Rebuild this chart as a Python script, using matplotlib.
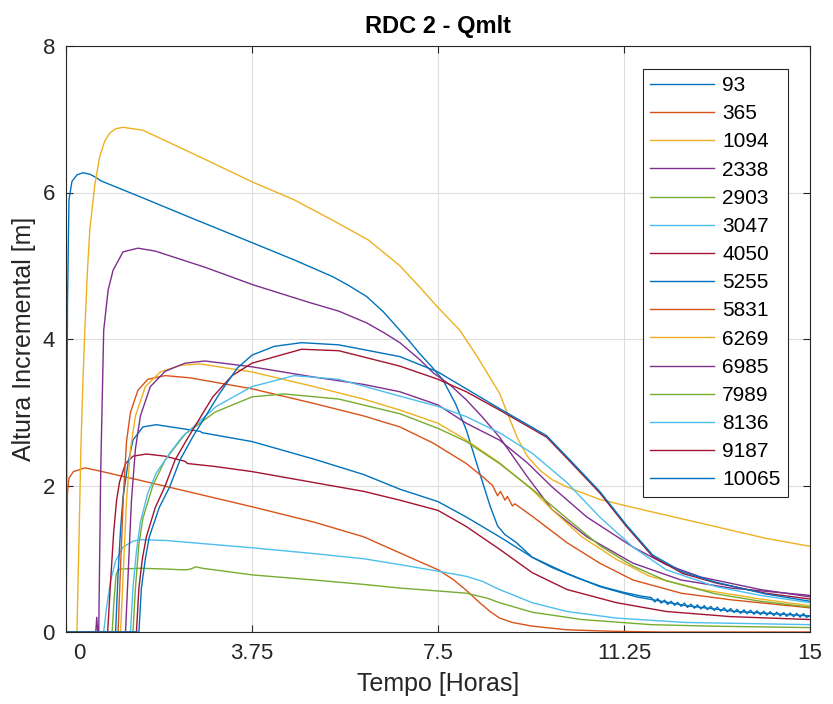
import matplotlib
matplotlib.use('Agg')
import matplotlib.pyplot as plt
import matplotlib.transforms as mtransforms
from matplotlib import font_manager

plt.rcParams['font.family'] = ['Liberation Sans', 'DejaVu Sans']

# 图中读出的数据 (时间 [h], 高度 [m])
t_93 = [0.0, 0.01, 0.03, 0.06, 0.12, 0.22, 0.34, 0.48, 0.62, 0.70, 1.5, 2.5, 3.77, 4.6, 5.38, 5.7,
        6.06, 6.4, 6.73, 6.95, 7.13, 7.35, 7.6, 7.85, 8.07, 8.34, 8.55, 8.7, 8.85, 9.08, 9.4, 9.8,
        10.3, 10.8, 11.25, 11.6]
h_93 = [0.0, 1.5, 4.5, 5.9, 6.15, 6.24, 6.27, 6.25, 6.2, 6.16, 5.94, 5.66, 5.31, 5.08, 4.85, 4.73,
        4.58, 4.37, 4.12, 3.95, 3.80, 3.64, 3.44, 3.12, 2.76, 2.17, 1.72, 1.45, 1.33, 1.22, 1.02, 0.88,
        0.74, 0.62, 0.54, 0.49]
# 93 末段的振荡部分
t_93_wave = [11.80, 11.87, 11.93, 12.00, 12.07, 12.13, 12.20, 12.27, 12.33, 12.40, 12.47, 12.53,
             12.60, 12.67, 12.73, 12.80, 12.87, 12.93, 13.00, 13.07, 13.13, 13.20, 13.27, 13.33,
             13.40, 13.47, 13.53, 13.60, 13.67, 13.73, 13.80, 13.87, 13.93, 14.00, 14.07, 14.13,
             14.20, 14.27, 14.33, 14.40, 14.47, 14.53, 14.60, 14.67, 14.73, 14.80, 14.87, 14.93, 15.00]
h_93_wave = [0.47, 0.41, 0.455, 0.395, 0.435, 0.375, 0.42, 0.365, 0.405, 0.35, 0.395, 0.335,
             0.38, 0.325, 0.37, 0.315, 0.36, 0.305, 0.35, 0.295, 0.34, 0.285, 0.33, 0.275,
             0.32, 0.265, 0.31, 0.255, 0.303, 0.25, 0.297, 0.243, 0.29, 0.237, 0.283, 0.23,
             0.277, 0.224, 0.271, 0.218, 0.265, 0.213, 0.26, 0.208, 0.255, 0.203, 0.251, 0.199, 0.222]

t_365 = [0.0, 0.01, 0.03, 0.06, 0.15, 0.38, 0.6, 1.5, 2.5, 3.75, 5.0, 6.0, 6.73, 7.13, 7.5, 7.8,
         8.07, 8.34, 8.55, 8.74, 9.0, 9.4, 10.1, 11.0, 12.0, 15.0]
h_365 = [0.0, 0.8, 1.9, 2.1, 2.19, 2.24, 2.21, 2.07, 1.91, 1.71, 1.50, 1.30, 1.08, 0.96, 0.85, 0.72,
         0.57, 0.40, 0.28, 0.19, 0.13, 0.08, 0.03, 0.01, 0.0, 0.0]

t_1094 = [0.0, 0.22, 0.26, 0.30, 0.34, 0.38, 0.43, 0.48, 0.58, 0.68, 0.78, 0.88, 1.0, 1.15, 1.55,
          2.5, 3.77, 4.6, 5.38, 6.1, 6.73, 7.13, 7.5, 7.94, 8.3, 8.74, 8.95, 9.1, 9.3, 9.55, 9.8,
          10.1, 10.76, 11.43, 12.77, 14.1, 15.0]
h_1094 = [0.0, 0.0, 1.2, 2.5, 3.4, 4.12, 4.9, 5.49, 6.1, 6.49, 6.70, 6.81, 6.87, 6.89, 6.85,
          6.55, 6.14, 5.9, 5.62, 5.35, 5.0, 4.71, 4.43, 4.12, 3.75, 3.26, 2.90, 2.65, 2.40, 2.21,
          2.08, 1.98, 1.81, 1.70, 1.49, 1.28, 1.17]

t_2338 = [0.0, 0.60, 0.62, 0.64, 0.66, 0.70, 0.76, 0.85, 0.95, 1.15, 1.45, 1.8, 2.8, 3.77, 4.9,
          5.5, 6.06, 6.4, 6.73, 7.13, 7.4, 7.75, 8.07, 8.4, 8.74, 9.3, 9.8, 10.5, 11.43, 12.4, 13.4, 15.0]
h_2338 = [0.0, 0.0, 0.2, 0.0, 0.0, 2.2, 4.12, 4.67, 4.94, 5.19, 5.24, 5.20, 4.98, 4.74, 4.50,
          4.38, 4.22, 4.09, 3.95, 3.72, 3.54, 3.37, 3.17, 2.93, 2.66, 2.12, 1.67, 1.30, 0.94, 0.71,
          0.60, 0.50]

t_2903 = [0.0, 0.93, 0.97, 1.01, 1.05, 1.1, 1.5, 2.0, 2.3, 2.45, 2.55, 2.62, 2.75, 3.75, 5.0, 6.0,
          6.73, 7.5, 8.07, 8.5, 8.74, 9.4, 10.4, 11.8, 13.0, 15.0]
h_2903 = [0.0, 0.0, 0.45, 0.78, 0.85, 0.86, 0.87, 0.86, 0.85, 0.85, 0.87, 0.89, 0.87, 0.78, 0.71,
          0.65, 0.60, 0.56, 0.53, 0.46, 0.40, 0.27, 0.17, 0.10, 0.08, 0.06]

t_3047 = [0.0, 0.76, 0.82, 0.9, 1.0, 1.15, 1.35, 1.5, 2.0, 3.75, 5.0, 6.0, 6.73, 7.5, 8.07, 8.4,
          8.74, 9.4, 10.1, 11.1, 12.5, 15.0]
h_3047 = [0.0, 0.0, 0.35, 0.7, 0.97, 1.16, 1.24, 1.26, 1.25, 1.15, 1.07, 1.0, 0.92, 0.83, 0.76,
          0.69, 0.58, 0.40, 0.28, 0.19, 0.13, 0.10]

t_4050 = [0.0, 0.84, 0.9, 0.96, 1.02, 1.08, 1.2, 1.35, 1.62, 2.0, 2.4, 2.45, 3.0, 3.75, 5.0, 6.0,
          6.73, 7.5, 8.07, 8.74, 9.4, 10.1, 11.1, 12.1, 13.4, 15.0]
h_4050 = [0.0, 0.0, 0.7, 1.35, 1.8, 2.05, 2.3, 2.40, 2.43, 2.40, 2.33, 2.30, 2.26, 2.19, 2.04,
          1.92, 1.80, 1.66, 1.44, 1.13, 0.81, 0.58, 0.40, 0.28, 0.21, 0.17]

t_5255 = [0.0, 1.0, 1.05, 1.1, 1.15, 1.25, 1.35, 1.55, 1.82, 2.5, 2.7, 2.75, 3.75, 5.0, 6.0, 6.73,
          7.5, 8.07, 8.74, 9.4, 10.1, 10.76, 11.5, 12.5, 13.5, 15.0]
h_5255 = [0.0, 0.0, 0.8, 1.4, 1.84, 2.3, 2.62, 2.80, 2.83, 2.76, 2.74, 2.72, 2.60, 2.36, 2.15,
          1.95, 1.78, 1.57, 1.30, 1.02, 0.80, 0.62, 0.48, 0.36, 0.28, 0.22]

t_5831 = [0.0, 1.05, 1.1, 1.16, 1.22, 1.3, 1.45, 1.65, 2.0, 2.5, 3.75, 5.0, 6.0, 6.73, 7.4, 8.07,
          8.4, 8.6, 8.7, 8.76, 8.85, 8.9, 9.0, 9.05, 9.4, 10.1, 10.76, 11.43, 12.4, 13.4, 15.0]
h_5831 = [0.0, 0.0, 0.9, 1.9, 2.6, 3.0, 3.3, 3.45, 3.50, 3.47, 3.32, 3.12, 2.95, 2.80, 2.58, 2.30,
          2.12, 2.0, 1.86, 1.92, 1.80, 1.85, 1.72, 1.75, 1.58, 1.22, 0.94, 0.71, 0.53, 0.44, 0.33]

t_6269 = [0.0, 1.1, 1.16, 1.22, 1.3, 1.4, 1.6, 1.9, 2.3, 2.7, 3.75, 5.0, 6.0, 6.73, 7.5, 8.07,
          8.74, 9.4, 9.8, 10.4, 11.1, 11.77, 12.8, 14.0, 15.0]
h_6269 = [0.0, 0.0, 0.9, 1.8, 2.5, 2.95, 3.35, 3.55, 3.64, 3.66, 3.55, 3.35, 3.18, 3.03, 2.85,
          2.62, 2.31, 1.94, 1.67, 1.30, 0.99, 0.76, 0.58, 0.45, 0.36]

t_6985 = [0.0, 1.2, 1.26, 1.32, 1.4, 1.5, 1.7, 2.0, 2.4, 2.8, 3.75, 5.0, 6.0, 6.73, 7.5, 8.07,
          8.74, 9.3, 9.8, 10.5, 11.43, 12.1, 12.8, 14.0, 15.0]
h_6985 = [0.0, 0.0, 0.9, 1.8, 2.5, 2.95, 3.35, 3.56, 3.67, 3.70, 3.62, 3.48, 3.38, 3.28, 3.10,
          2.85, 2.62, 2.31, 1.98, 1.57, 1.16, 0.92, 0.75, 0.58, 0.48]

t_7989 = [0.0, 1.35, 1.4, 1.47, 1.55, 1.75, 2.0, 2.4, 3.0, 3.75, 4.4, 5.5, 6.73, 7.5, 8.07, 8.74,
          9.4, 10.1, 10.76, 11.43, 12.1, 13.1, 14.0, 15.0]
h_7989 = [0.0, 0.0, 0.6, 1.2, 1.55, 2.0, 2.35, 2.7, 3.0, 3.21, 3.25, 3.18, 2.98, 2.78, 2.60, 2.30,
          1.95, 1.55, 1.18, 0.90, 0.70, 0.52, 0.42, 0.34]

t_8136 = [0.0, 1.3, 1.35, 1.42, 1.5, 1.65, 1.82, 2.1, 2.35, 3.03, 3.75, 4.6, 5.5, 6.73, 7.5, 8.07,
          8.74, 9.4, 10.1, 10.76, 11.43, 12.1, 13.1, 14.0, 15.0]
h_8136 = [0.0, 0.0, 0.6, 1.1, 1.5, 1.9, 2.17, 2.45, 2.67, 3.08, 3.35, 3.50, 3.45, 3.22, 3.08,
          2.94, 2.72, 2.44, 2.04, 1.57, 1.16, 0.85, 0.62, 0.50, 0.40]

t_9187 = [0.0, 1.42, 1.47, 1.54, 1.62, 1.8, 1.99, 2.2, 2.43, 2.96, 3.35, 3.75, 4.75, 5.5, 6.73,
          7.5, 8.07, 8.74, 9.69, 10.2, 10.76, 11.3, 11.83, 12.43, 13.1, 14.1, 15.0]
h_9187 = [0.0, 0.0, 0.6, 1.0, 1.3, 1.7, 1.98, 2.35, 2.62, 3.21, 3.5, 3.67, 3.86, 3.84, 3.63,
          3.45, 3.28, 3.03, 2.66, 2.30, 1.90, 1.44, 1.03, 0.80, 0.67, 0.53, 0.45]

t_10065 = [0.0, 1.47, 1.52, 1.6, 1.68, 1.88, 2.09, 2.3, 2.56, 3.1, 3.45, 3.75, 4.2, 4.75, 5.5,
           6.73, 7.5, 8.07, 8.74, 9.69, 10.2, 10.76, 11.3, 11.83, 12.43, 13.1, 14.1, 15.0]
h_10065 = [0.0, 0.0, 0.6, 1.0, 1.3, 1.7, 1.98, 2.35, 2.67, 3.26, 3.6, 3.78, 3.9, 3.95, 3.92,
           3.76, 3.55, 3.32, 3.05, 2.68, 2.32, 1.92, 1.46, 1.05, 0.82, 0.68, 0.52, 0.42]

series = [
    ('93', t_93 + t_93_wave, h_93 + h_93_wave),
    ('365', t_365, h_365),
    ('1094', t_1094, h_1094),
    ('2338', t_2338, h_2338),
    ('2903', t_2903, h_2903),
    ('3047', t_3047, h_3047),
    ('4050', t_4050, h_4050),
    ('5255', t_5255, h_5255),
    ('5831', t_5831, h_5831),
    ('6269', t_6269, h_6269),
    ('6985', t_6985, h_6985),
    ('7989', t_7989, h_7989),
    ('8136', t_8136, h_8136),
    ('9187', t_9187, h_9187),
    ('10065', t_10065, h_10065),
]

x_ticks = [0, 3.75, 7.5, 11.25, 15]
x_tick_labels = ['0', '3.75', '7.5', '11.25', '15']
y_ticks = [0, 2, 4, 6, 8]

# MATLAB 默认配色
colors = ['#0072BD', '#D95319', '#EDB120', '#7E2F8E', '#77AC30', '#4DBEEE', '#A2142F']

# 图例用窄体字 (如果有的话)
font_names = {f.name for f in font_manager.fontManager.ttflist}
if 'Liberation Sans Narrow' in font_names:
    leg_font = {'family': 'Liberation Sans Narrow', 'size': 16}
    leg_handle, leg_space = 3.1, 0.31
else:
    leg_font = {'family': 'Liberation Sans', 'size': 15}
    leg_handle, leg_space = 3.05, 0.44

fig = plt.figure(figsize=(8.33, 7.04), dpi=100)
ax = fig.add_axes([66 / 833, 72 / 704, 744 / 833, 586 / 704])

for i, (name, t, h) in enumerate(series):
    ax.plot(t, h, color=colors[i % len(colors)], linewidth=1.0, label=name)

ax.set_xlim(0, 15)
ax.set_ylim(0, 8)
ax.set_xticks(x_ticks)
ax.set_xticklabels(x_tick_labels)
ax.set_yticks(y_ticks)
ax.grid(True, color='#dedede', linewidth=0.8)
ax.set_axisbelow(True)
for s in ax.spines.values():
    s.set_color('#262626')
    s.set_linewidth(0.8)
ax.tick_params(direction='in', length=5, width=0.8, top=True, right=True,
               labelsize=16, colors='#262626', pad=8)

ax.set_xlabel('Tempo [Horas]', fontsize=18, color='#262626', labelpad=6)
ax.set_ylabel('Altura Incremental [m]', fontsize=18, color='#262626', labelpad=5)
ax.set_title('RDC 2 - Qmlt', fontsize=17, fontweight='bold', pad=9)

leg = ax.legend(loc='upper right', bbox_to_anchor=(0.970, 0.961), borderaxespad=0,
                fancybox=False, framealpha=1, edgecolor='#262626', prop=leg_font,
                handlelength=leg_handle, handletextpad=0.4, labelspacing=leg_space,
                borderpad=0.35)
leg.get_frame().set_linewidth(0.8)

fig.canvas.draw()
lbl = ax.xaxis.get_major_ticks()[0].label1
lbl.set_transform(lbl.get_transform() + mtransforms.ScaledTranslation(13 / 100, 0, fig.dpi_scale_trans))

plt.savefig('out.png', dpi=100)
plt.close()
